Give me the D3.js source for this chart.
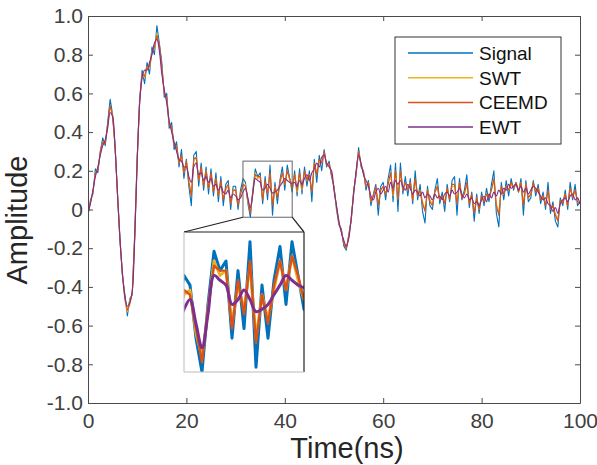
<!DOCTYPE html>
<html><head><meta charset="utf-8">
<script src="https://cdn.jsdelivr.net/npm/d3@7/dist/d3.min.js"></script>
<style>body{margin:0;background:#fff}svg{display:block}</style>
</head><body><svg id="c" width="597" height="465"></svg>
<script>
// sampling interval of all series (ns); sample i is at time i*dt
const dt = 0.5;

const signal = [
-0.03,0.05,0.08,0.21,0.19,0.30,0.37,0.33,0.45,0.57,
0.49,0.33,0.07,-0.16,-0.34,-0.44,-0.55,-0.46,-0.44,-0.12,
0.27,0.57,0.72,0.65,0.76,0.70,0.84,0.80,0.95,0.86,
0.76,0.58,0.60,0.42,0.45,0.31,0.35,0.22,0.31,0.16,
0.26,0.12,0.02,0.28,0.30,0.12,0.24,0.10,0.22,0.08,
0.21,0.07,0.19,0.04,0.17,0.02,0.13,0.15,0.00,0.12,
0.12,0.00,0.10,0.16,0.14,0.03,-0.04,0.10,0.21,0.17,
0.19,0.03,0.17,0.05,0.23,-0.03,0.14,0.03,0.15,0.22,
0.10,0.23,0.16,0.09,0.20,0.07,0.21,0.08,0.22,0.12,
0.20,0.04,0.26,0.14,0.28,0.20,0.31,0.22,0.25,0.17,
0.12,0.00,-0.08,-0.10,-0.19,-0.21,-0.13,-0.06,0.10,0.18,
0.32,0.22,0.20,0.10,0.15,0.02,0.08,0.13,-0.03,0.12,
0.14,0.05,0.16,0.23,0.04,0.24,-0.01,0.24,0.08,0.17,
0.07,0.16,0.03,0.20,0.05,0.13,-0.01,-0.07,0.12,0.02,
0.00,0.10,0.16,0.03,0.09,-0.01,0.13,0.04,0.15,0.17,
-0.03,0.16,0.05,0.10,0.18,0.01,0.09,-0.06,0.08,-0.02,
0.09,0.02,0.11,0.04,0.13,0.20,-0.02,-0.09,0.14,0.05,
0.15,0.07,0.16,0.10,0.14,0.09,0.16,-0.03,0.15,0.04,
0.06,0.15,0.07,0.13,0.03,0.09,0.00,0.14,-0.02,0.04,
-0.06,-0.09,0.06,0.02,0.10,0.00,0.14,0.05,0.13,0.02,
0.04];

const swt = [
-0.02,0.04,0.09,0.19,0.21,0.29,0.35,0.35,0.43,0.53,
0.49,0.32,0.08,-0.15,-0.33,-0.47,-0.53,-0.47,-0.43,-0.14,
0.26,0.56,0.70,0.68,0.74,0.73,0.82,0.83,0.91,0.84,
0.73,0.60,0.57,0.44,0.42,0.33,0.32,0.24,0.28,0.19,
0.24,0.15,0.08,0.25,0.27,0.15,0.21,0.13,0.20,0.11,
0.18,0.10,0.16,0.07,0.14,0.06,0.10,0.12,0.03,0.10,
0.10,0.03,0.08,0.12,0.13,0.04,-0.01,0.09,0.19,0.16,
0.17,0.06,0.14,0.09,0.18,0.03,0.12,0.07,0.13,0.19,
0.13,0.20,0.15,0.11,0.18,0.09,0.18,0.10,0.19,0.15,
0.18,0.10,0.24,0.19,0.25,0.24,0.29,0.23,0.23,0.19,
0.11,0.01,-0.07,-0.11,-0.17,-0.20,-0.14,-0.05,0.09,0.19,
0.30,0.23,0.19,0.12,0.14,0.04,0.07,0.11,0.03,0.10,
0.12,0.08,0.13,0.19,0.07,0.20,0.06,0.20,0.10,0.14,
0.10,0.14,0.05,0.15,0.07,0.10,0.04,0.00,0.10,0.05,
0.03,0.09,0.11,0.05,0.07,0.04,0.11,0.06,0.12,0.12,
0.04,0.13,0.07,0.08,0.13,0.03,0.07,-0.01,0.06,0.00,
0.07,0.05,0.08,0.06,0.10,0.15,0.03,-0.02,0.11,0.08,
0.12,0.10,0.13,0.11,0.13,0.10,0.14,0.03,0.13,0.06,
0.08,0.13,0.09,0.11,0.05,0.07,0.03,0.09,0.00,0.02,
-0.02,-0.05,0.04,0.04,0.08,0.02,0.11,0.07,0.09,0.04,
0.03];

const ceemd = [
-0.02,0.04,0.09,0.19,0.20,0.30,0.35,0.34,0.44,0.54,
0.48,0.33,0.08,-0.16,-0.34,-0.46,-0.52,-0.49,-0.43,-0.14,
0.26,0.56,0.70,0.69,0.74,0.74,0.81,0.84,0.90,0.85,
0.74,0.60,0.58,0.44,0.43,0.33,0.33,0.24,0.28,0.19,
0.25,0.14,0.07,0.26,0.27,0.15,0.22,0.12,0.20,0.11,
0.19,0.09,0.16,0.07,0.15,0.05,0.11,0.13,0.03,0.10,
0.10,0.02,0.08,0.13,0.12,0.05,-0.02,0.09,0.18,0.17,
0.17,0.05,0.15,0.08,0.19,0.02,0.12,0.06,0.14,0.19,
0.13,0.20,0.16,0.11,0.18,0.10,0.19,0.11,0.20,0.15,
0.18,0.09,0.24,0.18,0.26,0.24,0.30,0.23,0.24,0.18,
0.11,0.02,-0.07,-0.11,-0.18,-0.20,-0.14,-0.05,0.09,0.19,
0.30,0.23,0.19,0.12,0.14,0.04,0.07,0.12,0.02,0.10,
0.12,0.08,0.13,0.19,0.08,0.20,0.05,0.20,0.10,0.14,
0.10,0.14,0.05,0.16,0.07,0.10,0.03,-0.01,0.10,0.04,
0.02,0.09,0.12,0.05,0.07,0.03,0.11,0.05,0.13,0.13,
0.03,0.14,0.06,0.08,0.14,0.03,0.08,-0.02,0.06,0.00,
0.07,0.04,0.08,0.06,0.10,0.16,0.02,-0.03,0.12,0.08,
0.12,0.10,0.14,0.11,0.14,0.09,0.14,0.02,0.13,0.06,
0.08,0.14,0.09,0.11,0.05,0.07,0.02,0.10,0.00,0.02,
-0.03,-0.06,0.05,0.03,0.08,0.02,0.11,0.06,0.10,0.04,
0.03];

const ewt = [
-0.02,0.03,0.10,0.17,0.22,0.28,0.33,0.36,0.42,0.50,
0.48,0.32,0.08,-0.15,-0.33,-0.45,-0.50,-0.48,-0.42,-0.15,
0.25,0.55,0.68,0.72,0.72,0.76,0.80,0.86,0.88,0.82,
0.70,0.62,0.55,0.46,0.40,0.35,0.30,0.26,0.25,0.22,
0.22,0.17,0.14,0.22,0.24,0.18,0.19,0.15,0.17,0.14,
0.16,0.12,0.13,0.10,0.12,0.09,0.08,0.10,0.06,0.08,
0.07,0.05,0.06,0.09,0.11,0.06,0.01,0.08,0.16,0.15,
0.14,0.10,0.11,0.13,0.11,0.085,0.09,0.10,0.12,0.14,
0.16,0.15,0.14,0.135,0.14,0.12,0.15,0.13,0.16,0.18,
0.15,0.19,0.21,0.24,0.22,0.27,0.28,0.24,0.22,0.20,
0.10,0.02,-0.06,-0.12,-0.16,-0.19,-0.15,-0.04,0.08,0.20,
0.28,0.24,0.18,0.15,0.12,0.07,0.05,0.09,0.11,0.08,
0.10,0.12,0.09,0.14,0.11,0.15,0.13,0.15,0.12,0.10,
0.13,0.11,0.08,0.10,0.09,0.07,0.09,0.06,0.08,0.07,
0.05,0.08,0.06,0.07,0.05,0.08,0.09,0.07,0.10,0.08,
0.09,0.11,0.08,0.06,0.08,0.05,0.06,0.03,0.04,0.02,
0.05,0.07,0.04,0.08,0.06,0.09,0.07,0.10,0.08,0.11,
0.10,0.13,0.11,0.12,0.13,0.10,0.12,0.09,0.11,0.08,
0.10,0.12,0.11,0.09,0.07,0.05,0.06,0.03,0.02,-0.01,
0.01,-0.02,0.03,0.05,0.06,0.04,0.07,0.08,0.05,0.06,
0.03];

const seriesNames = ["Signal", "SWT", "CEEMD", "EWT"];
const seriesColors = ["#0072BD", "#EDB120", "#D95319", "#7E2F8E"];
const xTicks = [0, 20, 40, 60, 80, 100];
const xTickLabels = ["0", "20", "40", "60", "80", "100"];
const yTicks = [1.0, 0.8, 0.6, 0.4, 0.2, 0, -0.2, -0.4, -0.6, -0.8, -1.0];
const yTickLabels = ["1.0", "0.8", "0.6", "0.4", "0.2", "0", "-0.2", "-0.4", "-0.6", "-0.8", "-1.0"];
const zoomTime = [31.5, 41.5];
const zoomAmp = [-0.04, 0.25];
const xLabel = "Time(ns)";
const yLabel = "Amplitude";

// ---- layout ----
const plot = {l: 88, r: 580, t: 16, b: 403};
const inset = {l: 184, r: 304, t: 232, b: 372};
const FONT = "'Liberation Sans', Arial, Helvetica, sans-serif";
const AX = "#4a4a4a";

const svg = d3.select("#c");
const seriesData = [signal, swt, ceemd, ewt].map(arr => arr.map((v, i) => ({t: i * dt, v})));
const seriesCurves = [d3.curveLinear, d3.curveLinear, d3.curveLinear, d3.curveCatmullRom];

const x = d3.scaleLinear().domain([0, 100]).range([plot.l, plot.r]);
const y = d3.scaleLinear().domain([-1, 1]).range([plot.b, plot.t]);

const defs = svg.append("defs");
defs.append("clipPath").attr("id", "clipMain").append("rect")
  .attr("x", plot.l).attr("y", plot.t).attr("width", plot.r - plot.l).attr("height", plot.b - plot.t);
defs.append("clipPath").attr("id", "clipInset").append("rect")
  .attr("x", inset.l).attr("y", inset.t).attr("width", inset.r - inset.l).attr("height", inset.b - inset.t);

// main lines
const gMain = svg.append("g").attr("clip-path", "url(#clipMain)");
seriesData.forEach((s, k) => {
  const line = d3.line().x(d => x(d.t)).y(d => y(d.v)).curve(seriesCurves[k]);
  gMain.append("path").datum(s).attr("d", line)
    .attr("fill", "none").attr("stroke", seriesColors[k])
    .attr("stroke-width", 1.1).attr("stroke-linejoin", "round");
});

// axes
function styleAxis(g) {
  g.selectAll("path.domain").attr("stroke", AX).attr("stroke-width", 1);
  g.selectAll(".tick line").attr("stroke", AX).attr("stroke-width", 1);
  g.selectAll(".tick text").attr("fill", "#404040").style("font-family", FONT);
}
svg.append("g").attr("transform", `translate(0,${plot.b})`)
  .call(d3.axisBottom(x).tickValues(xTicks).tickFormat((d, i) => xTickLabels[i]).tickSizeInner(-5).tickSizeOuter(0).tickPadding(10))
  .call(styleAxis).selectAll(".tick text").style("font-size", "21px");
svg.append("g").attr("transform", `translate(0,${plot.t})`)
  .call(d3.axisTop(x).tickValues(xTicks).tickFormat("").tickSizeInner(-5).tickSizeOuter(0))
  .call(styleAxis);
svg.append("g").attr("transform", `translate(${plot.l},0)`)
  .call(d3.axisLeft(y).tickValues(yTicks).tickFormat((d, i) => yTickLabels[i]).tickSizeInner(-5).tickSizeOuter(0).tickPadding(5))
  .call(styleAxis).selectAll(".tick text").style("font-size", "21px");
svg.append("g").attr("transform", `translate(${plot.r},0)`)
  .call(d3.axisRight(y).tickValues(yTicks).tickFormat("").tickSizeInner(-5).tickSizeOuter(0))
  .call(styleAxis);

// axis labels
svg.append("text").attr("x", 347).attr("y", 458).attr("text-anchor", "middle")
  .style("font-family", FONT).style("font-size", "29px").attr("fill", "#262626").text(xLabel);
svg.append("text").attr("transform", "translate(27,220) rotate(-90)").attr("text-anchor", "middle")
  .style("font-family", FONT).style("font-size", "29px").attr("fill", "#262626").text(yLabel);

// zoom indicator rectangle in main plot
const zx0 = x(zoomTime[0]), zx1 = x(zoomTime[1]);
const zy0 = y(zoomAmp[1]), zy1 = y(zoomAmp[0]);
svg.append("rect").attr("x", zx0).attr("y", zy0).attr("width", zx1 - zx0).attr("height", zy1 - zy0)
  .attr("fill", "none").attr("stroke", "#666").attr("stroke-width", 1);
svg.append("line").attr("x1", zx0).attr("y1", zy1).attr("x2", inset.l).attr("y2", inset.t)
  .attr("stroke", "#222").attr("stroke-width", 1.2);
svg.append("line").attr("x1", zx1).attr("y1", zy1).attr("x2", inset.r).attr("y2", inset.t)
  .attr("stroke", "#222").attr("stroke-width", 1.2);

// inset
const xi = d3.scaleLinear().domain(zoomTime).range([inset.l, inset.r]);
const yi = d3.scaleLinear().domain(zoomAmp).range([inset.b, inset.t]);
svg.append("rect").attr("x", inset.l).attr("y", inset.t).attr("width", inset.r - inset.l).attr("height", inset.b - inset.t)
  .attr("fill", "#fff");
const gIn = svg.append("g").attr("clip-path", "url(#clipInset)");
const insetWidths = [3, 2.8, 2.4, 3];
seriesData.forEach((s, k) => {
  const lineI = d3.line().x(d => xi(d.t)).y(d => yi(d.v)).curve(seriesCurves[k]);
  gIn.append("path").datum(s.filter(d => d.t >= zoomTime[0] - 1 && d.t <= zoomTime[1] + 1)).attr("d", lineI)
    .attr("fill", "none").attr("stroke", seriesColors[k])
    .attr("stroke-width", insetWidths[k]).attr("stroke-linejoin", "round");
});
svg.append("line").attr("x1", inset.l).attr("y1", inset.t).attr("x2", inset.r).attr("y2", inset.t).attr("stroke", "#222").attr("stroke-width", 1.2);
svg.append("line").attr("x1", inset.r).attr("y1", inset.t).attr("x2", inset.r).attr("y2", inset.b).attr("stroke", "#222").attr("stroke-width", 1.2);
svg.append("line").attr("x1", inset.l).attr("y1", inset.t).attr("x2", inset.l).attr("y2", inset.b).attr("stroke", "#bbb").attr("stroke-width", 1);
svg.append("line").attr("x1", inset.l).attr("y1", inset.b).attr("x2", inset.r).attr("y2", inset.b).attr("stroke", "#bbb").attr("stroke-width", 1);

// legend
const leg = svg.append("g");
leg.append("rect").attr("x", 395).attr("y", 37).attr("width", 166).attr("height", 107)
  .attr("fill", "#fff").attr("stroke", "#333").attr("stroke-width", 1);
seriesNames.forEach((n, k) => {
  const ly = 53 + k * 24.7;
  leg.append("line").attr("x1", 408).attr("x2", 473).attr("y1", ly).attr("y2", ly)
    .attr("stroke", seriesColors[k]).attr("stroke-width", 1.5);
  leg.append("text").attr("x", 479).attr("y", ly).attr("dy", "0.36em")
    .style("font-family", FONT).style("font-size", "19px").attr("fill", "#111").text(n);
});
</script></body></html>
